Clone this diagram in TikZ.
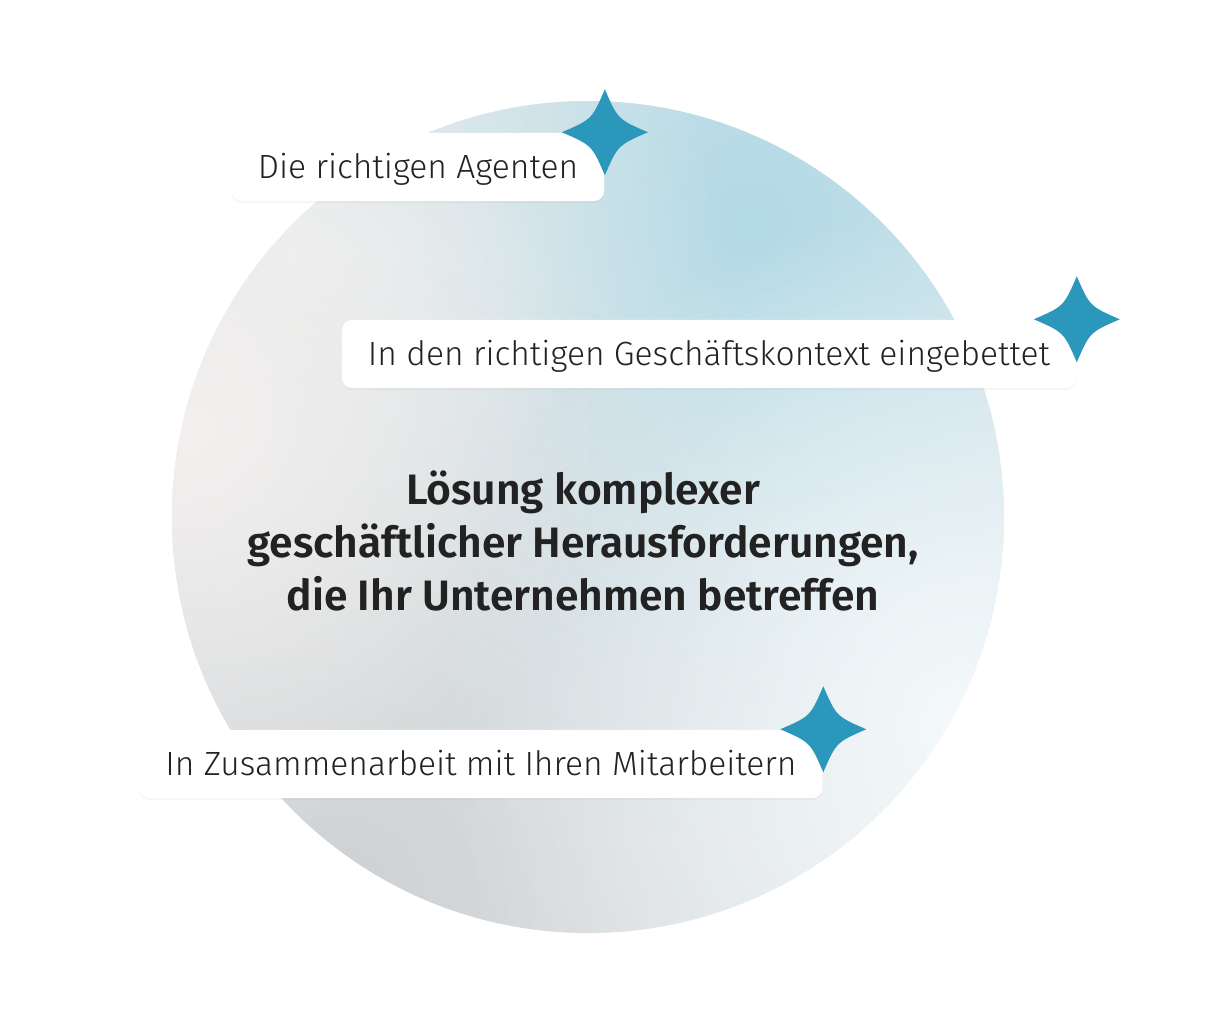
\documentclass[tikz,border=0pt]{standalone}
\usepackage{fontspec}
\setmainfont{Fira Sans}[UprightFont=* Light, BoldFont=* SemiBold]
\usetikzlibrary{positioning,fadings,shadows}

\definecolor{starblue}{HTML}{2B98BB}
\definecolor{textdark}{HTML}{222222}
\definecolor{discbase}{HTML}{E4E9EB}
\definecolor{discblue}{HTML}{B2DAE6}
\definecolor{discgray}{HTML}{CFD2D4}
\definecolor{discwarm}{HTML}{F3F0EF}
\definecolor{disclight}{HTML}{F4F9FB}

\tikzfading[name=softblob, inner color=transparent!0, outer color=transparent!100]

\tikzset{
  tag/.style={fill=white, rounded corners=0.1cm, inner xsep=0.26cm, inner ysep=0pt,
    minimum height=0.68cm, text height=0.8em, text depth=0.14em, text=textdark,
    font=\fontsize{9.55}{12}\selectfont,
    drop shadow={shadow xshift=0pt, shadow yshift=-0.6pt, opacity=0.07}},
  headline/.style={align=center, text=textdark, font=\bfseries\fontsize{12.1}{15.1}\selectfont},
  sparkle/.pic={
    \fill[starblue] (0,-43) .. controls (13,-13) .. (43,0) .. controls (13,13) .. (0,43)
      .. controls (-13,13) .. (-43,0) .. controls (-13,-13) .. cycle;
  }
}

\begin{document}
\begin{tikzpicture}[x=0.01cm,y=-0.01cm]
\useasboundingbox (0,0) rectangle (1225,1024);

% the disc
\begin{scope}
\clip (588,517) circle (416);
\fill[discbase] (588,517) circle (416);
\fill[discblue, path fading=softblob] (750,220) circle (620);
\fill[discwarm, opacity=0.7, path fading=softblob] (320,270) circle (420);
\fill[discgray, path fading=softblob] (340,900) circle (640);
\fill[discwarm, path fading=softblob] (190,430) circle (420);
\fill[disclight, path fading=softblob] (960,720) circle (520);
\end{scope}

% labels
\node[tag] (agents)  at (418,167) {Die richtigen Agenten};
\node[tag] (kontext) at (709,354) {In den richtigen Geschäftskontext eingebettet};
\node[tag] (team)    at (481,764) {In Zusammenarbeit mit Ihren Mitarbeitern};

\pic at (agents.north east) {sparkle};
\pic at (kontext.north east) {sparkle};
\pic at (team.north east) {sparkle};

\node[headline] (loesung) at (583,541) {Lösung komplexer\\geschäftlicher Herausforderungen,\\die Ihr Unternehmen betreffen};

\end{tikzpicture}
\end{document}
